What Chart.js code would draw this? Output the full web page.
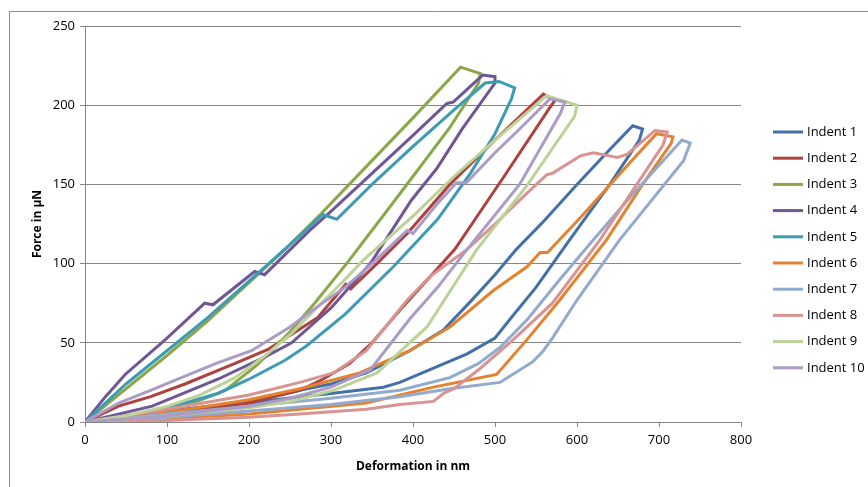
<!DOCTYPE html>
<html>
<head>
<meta charset="utf-8">
<script src="https://cdn.jsdelivr.net/npm/chart.js@4.4.0/dist/chart.umd.min.js"></script>
<style>
  html, body { margin: 0; padding: 0; background: #fff; }
  #wrap { width: 868px; height: 487px; }
</style>
</head>
<body>
<div id="wrap"><canvas id="myChart" width="868" height="487"></canvas></div>
<script>
// indentation curves: depth (nm) and force (uN), loading -> hold -> unloading
const indentLabels = ["Indent 1", "Indent 2", "Indent 3", "Indent 4", "Indent 5",
  "Indent 6", "Indent 7", "Indent 8", "Indent 9", "Indent 10"];
const indentColors = ["#4470a8", "#ad423f", "#8aa84a", "#6f5697", "#3d9bb4",
  "#e5822f", "#93aacf", "#d79492", "#bcd296", "#aa9cc4"];

const indent1Depth = [0, 60, 120, 200, 262, 300, 343, 396, 437, 470, 500, 526, 560, 600, 640, 668, 680, 676, 640, 591, 550, 520, 500, 466, 425, 384, 364, 300, 262, 200, 100, 0];
const indent1Force = [0, 4, 8, 13, 20, 24, 31, 45, 58, 76, 93, 109, 127, 150, 172, 187, 185, 178, 150, 115, 85, 66, 53, 43, 34, 25, 22, 18, 16, 12, 6, 0];

const indent2Depth = [0, 41, 80, 122, 183, 224, 284, 318, 324, 356, 393, 445, 500, 559, 573, 565, 511, 451, 388, 350, 323, 290, 262, 200, 100, 0];
const indent2Force = [0, 10, 16, 24, 37, 46, 66, 87, 84, 100, 119, 150, 178, 207, 203, 197, 155, 109, 73, 50, 37, 27, 20, 12, 5, 0];

const indent3Depth = [0, 50, 100, 150, 200, 244, 287, 350, 400, 458, 482, 480, 445, 378, 319, 280, 250, 210, 171, 122, 60, 0];
const indent3Force = [0, 21, 42, 64, 88, 109, 131, 165, 192, 224, 220, 214, 186, 140, 100, 75, 57, 36, 20, 10, 3, 0];

const indent4Depth = [0, 25, 49, 98, 146, 156, 207, 219, 274, 300, 350, 400, 441, 449, 485, 500, 500, 460, 429, 398, 348, 300, 252, 219, 162, 82, 0];
const indent4Force = [0, 16, 30, 52, 75, 74, 95, 93, 121, 133, 157, 181, 201, 202, 219, 218, 214, 185, 160, 140, 100, 72, 50, 41, 27, 10, 0];

const indent5Depth = [0, 50, 100, 150, 200, 250, 290, 307, 350, 400, 450, 488, 505, 524, 520, 500, 470, 430, 376, 317, 270, 244, 200, 162, 82, 0];
const indent5Force = [0, 24, 45, 66, 89, 112, 131, 128, 150, 174, 197, 214, 215, 211, 204, 182, 157, 128, 98, 68, 48, 39, 27, 18, 6, 0];

const indent6Depth = [0, 100, 200, 262, 335, 396, 445, 498, 539, 555, 564, 604, 665, 697, 717, 715, 680, 636, 579, 539, 502, 425, 343, 262, 200, 100, 0];
const indent6Force = [0, 6, 14, 21, 31, 45, 60, 83, 98, 107, 107, 129, 164, 182, 180, 176, 150, 115, 77, 52, 30, 22, 12, 8, 5, 2, 0];

const indent7Depth = [0, 100, 200, 300, 384, 445, 480, 506, 540, 579, 620, 665, 728, 738, 730, 652, 600, 570, 559, 546, 506, 445, 384, 300, 200, 100, 0];
const indent7Force = [0, 5, 10, 15, 20, 28, 37, 47, 65, 90, 115, 142, 178, 176, 165, 115, 77, 53, 45, 38, 25, 21, 16, 11, 7, 3, 0];

const indent8Depth = [0, 100, 200, 262, 303, 343, 393, 421, 466, 500, 540, 563, 570, 604, 620, 649, 661, 695, 710, 705, 628, 570, 518, 480, 450, 437, 425, 384, 343, 262, 200, 100, 0];
const indent8Force = [0, 8, 17, 25, 31, 45, 77, 92, 109, 125, 145, 156, 157, 168, 170, 167, 169, 184, 183, 175, 115, 75, 50, 33, 21, 18, 13, 11, 8, 5, 3, 1, 0];

const indent9Depth = [0, 50, 101, 140, 183, 220, 252, 317, 339, 400, 450, 500, 563, 600, 597, 540, 478, 417, 356, 303, 250, 200, 100, 0];
const indent9Force = [0, 4, 10, 17, 28, 42, 56, 90, 102, 130, 155, 178, 206, 200, 193, 150, 109, 60, 31, 20, 13, 9, 4, 0];

const indent10Depth = [0, 41, 80, 122, 160, 203, 250, 284, 317, 350, 393, 400, 430, 453, 465, 500, 530, 567, 585, 580, 530, 466, 430, 396, 348, 300, 250, 200, 100, 0];
const indent10Force = [0, 12, 20, 29, 37, 45, 60, 73, 85, 100, 121, 119, 138, 151, 151, 170, 185, 204, 202, 195, 150, 109, 85, 65, 33, 22, 15, 10, 4, 0];

const xTicks = [0, 100, 200, 300, 400, 500, 600, 700, 800];
const yTicks = [0, 50, 100, 150, 200, 250];

const depths = [indent1Depth, indent2Depth, indent3Depth, indent4Depth, indent5Depth,
  indent6Depth, indent7Depth, indent8Depth, indent9Depth, indent10Depth];
const forces = [indent1Force, indent2Force, indent3Force, indent4Force, indent5Force,
  indent6Force, indent7Force, indent8Force, indent9Force, indent10Force];

const datasets = indentLabels.map((label, i) => ({
  label: label,
  data: depths[i].map((d, j) => ({ x: d, y: forces[i][j] })),
  borderColor: indentColors[i],
  backgroundColor: indentColors[i],
  borderWidth: 3,
  pointRadius: 0,
  showLine: true,
  tension: 0,
  order: 9 - i, // later indents on top, like excel
}));

// frame (top + left edge) and legend on the right
const frameAndLegend = {
  id: "frameAndLegend",
  beforeDraw(chart) {
    const c = chart.ctx;
    c.save();
    c.fillStyle = "#fff";
    c.fillRect(0, 0, chart.width, chart.height);
    c.strokeStyle = "#8c8c8c";
    c.lineWidth = 1;
    c.beginPath();
    c.moveTo(9.5, chart.height);
    c.lineTo(9.5, 11.5);
    c.lineTo(chart.width, 11.5);
    c.stroke();
    c.restore();
  },
  afterDraw(chart) {
    const c = chart.ctx;
    c.save();
    c.font = "13px 'Open Sans'";
    c.textBaseline = "middle";
    c.fillStyle = "#000";
    chart.data.datasets.forEach((ds, i) => {
      const y = 132 + i * 26.2;
      c.strokeStyle = ds.borderColor;
      c.lineWidth = 3;
      c.beginPath();
      c.moveTo(773, y);
      c.lineTo(803, y);
      c.stroke();
      c.fillText(ds.label, 807, y);
    });
    c.restore();
  },
};

const ctx = document.getElementById("myChart").getContext("2d");
const myChart = new Chart(ctx, {
  type: "scatter",
  data: { datasets: datasets },
  options: {
    responsive: false,
    animation: false,
    layout: { padding: { left: 26, right: 127, top: 26, bottom: 9 } },
    plugins: {
      legend: { display: false },
      tooltip: { enabled: false },
    },
    scales: {
      x: {
        type: "linear",
        min: 0,
        max: 800,
        afterBuildTicks: (axis) => { axis.ticks = xTicks.map((v) => ({ value: v })); },
        afterFit: (axis) => { axis.height = 56; },
        ticks: { color: "#000", font: { family: "Open Sans", size: 13 }, padding: 5 },
        grid: { drawOnChartArea: false, drawTicks: true, tickLength: 5, color: "#868686" },
        border: { color: "#868686" },
        title: {
          display: true,
          text: "Deformation in nm",
          color: "#000",
          font: { family: "Open Sans", size: 12, weight: "bold" },
        },
      },
      y: {
        min: 0,
        max: 250,
        afterBuildTicks: (axis) => { axis.ticks = yTicks.map((v) => ({ value: v })); },
        afterFit: (axis) => { axis.width = 59; },
        ticks: { color: "#000", font: { family: "Open Sans", size: 13 }, padding: 5 },
        grid: { color: "#868686", tickLength: 5 },
        border: { color: "#868686" },
        title: {
          display: true,
          text: "Force in µN",
          color: "#000",
          font: { family: "Open Sans", size: 12, weight: "bold" },
        },
      },
    },
  },
  plugins: [frameAndLegend],
});
</script>
</body>
</html>
